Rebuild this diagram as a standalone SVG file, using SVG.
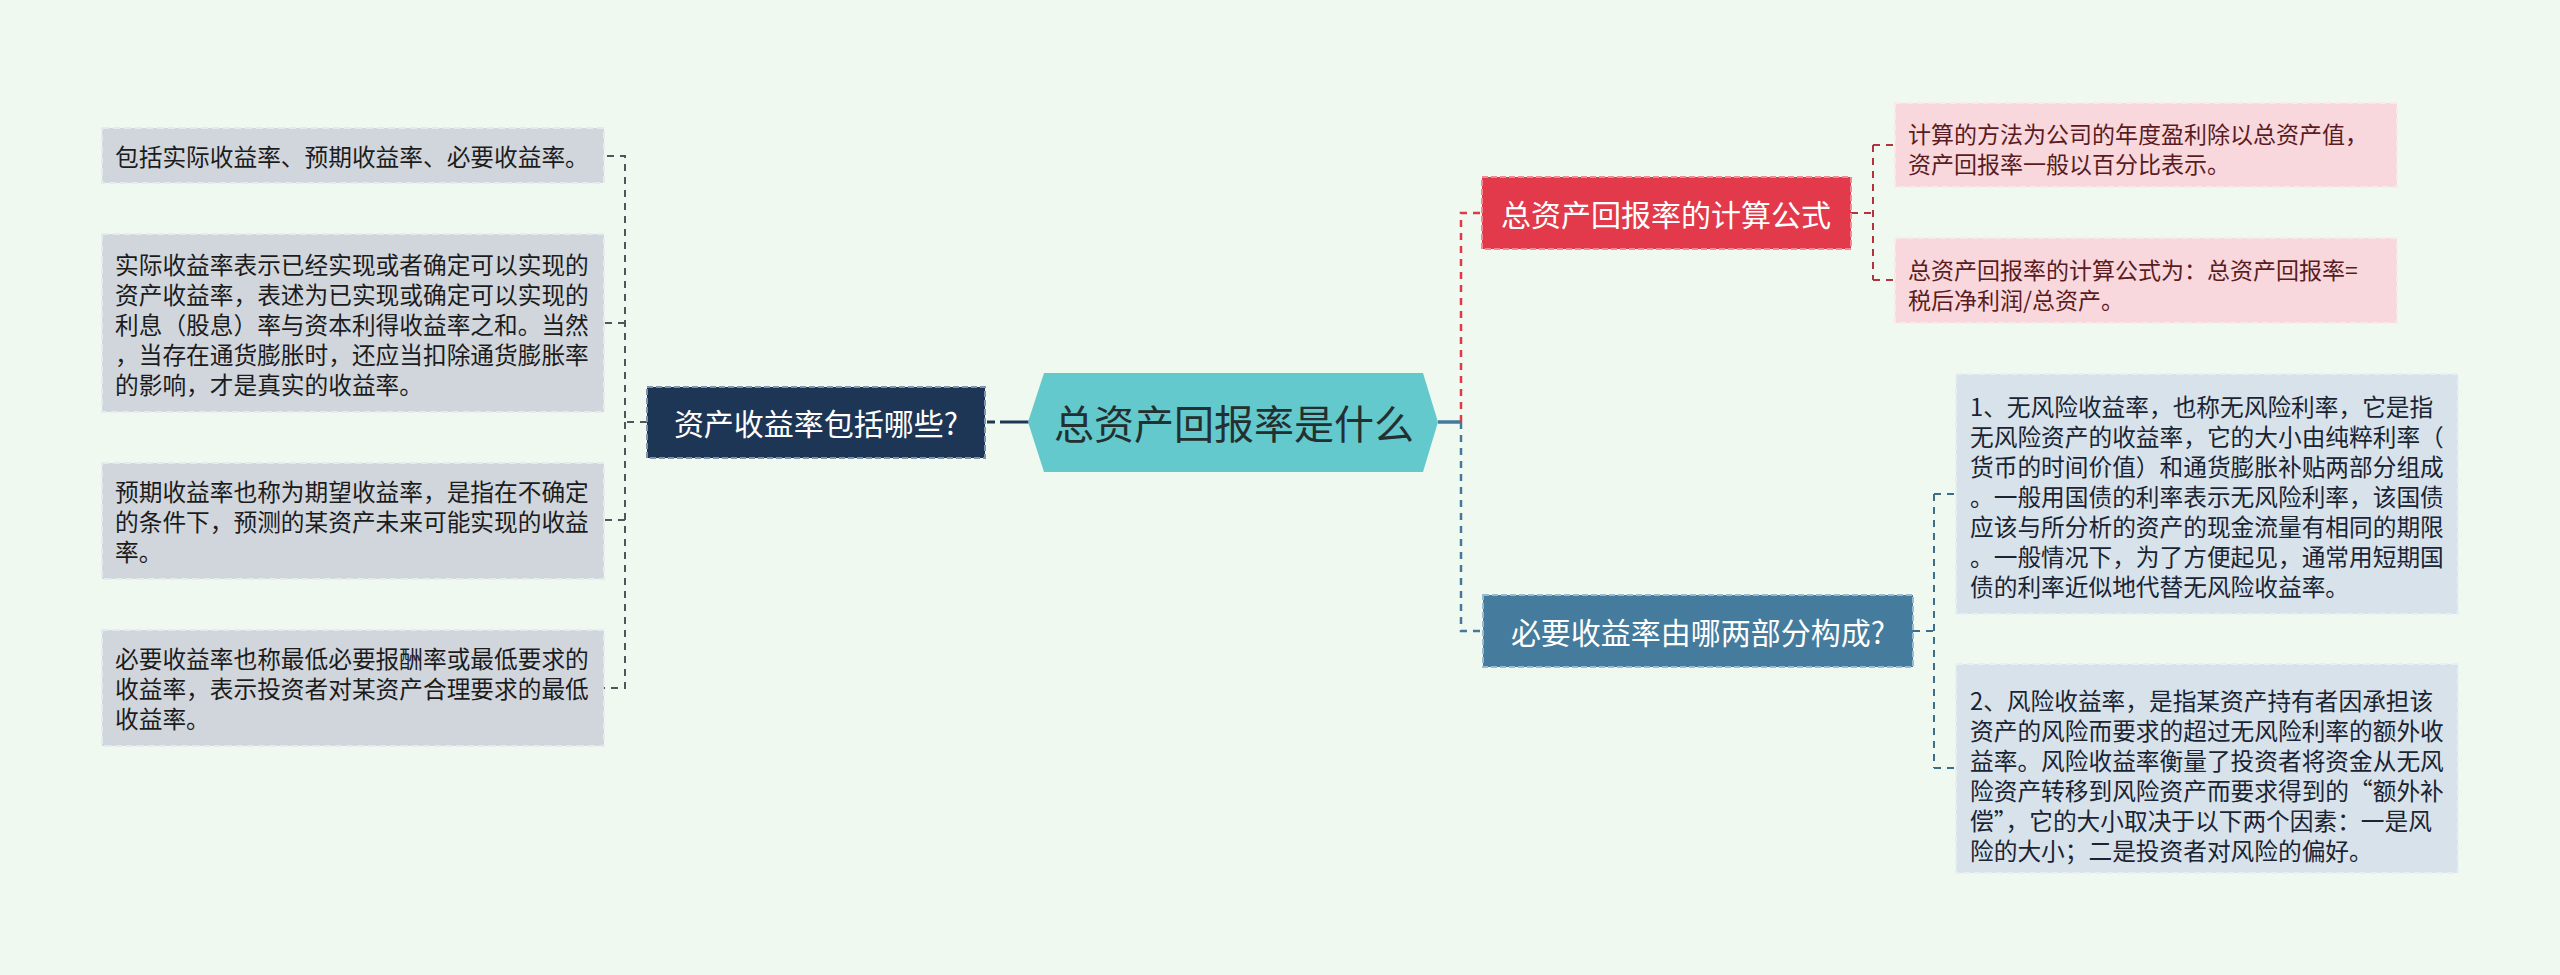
<svg xmlns="http://www.w3.org/2000/svg" width="2560" height="975" viewBox="0 0 2560 975">
<style>
text{font-family:"Noto Sans CJK SC","Noto Sans",sans-serif;dominant-baseline:central}
.leaf{font-size:23.7px;fill:#1c1c1c}
.pinkt{font-size:23px;fill:#5a1c22}
.bluet{font-size:23.7px;fill:#1a2433}
.nodet{font-size:30px;fill:#ffffff;text-anchor:middle}
.c{fill:none;stroke-dasharray:7 6}
.lg{fill:#d1d6dd;stroke:#e6eaee;stroke-width:2;stroke-dasharray:7 4}
.lp{fill:#f9d8dd;stroke:#fbe8eb;stroke-width:2;stroke-dasharray:7 4}
.lb{fill:#d8e2ea;stroke:#e8eef3;stroke-width:2;stroke-dasharray:7 4}
</style>
<rect width="2560" height="975" fill="#f0f9ef"/>
<g id="connectors">
<path class="c" d="M647,422H625V156H604M625,323H604M625,422V688H604M625,520H604" stroke="#50555c" stroke-width="2"/>
<path d="M987,422H1030" fill="none" stroke="#1e3656" stroke-width="3" stroke-dasharray="8 5 60"/>
<path d="M1438,422H1461" fill="none" stroke="#44789c" stroke-width="3.5"/>
<path class="c" d="M1461,422V213H1482" stroke="#e03a48" stroke-width="2.5" stroke-dasharray="8 8"/>
<path class="c" d="M1461,422V631H1483" stroke="#44789c" stroke-width="2.5" stroke-dasharray="8 8"/>
<path class="c" d="M1851,213H1873M1873,145V280M1873,145H1895M1873,280H1895" stroke="#b3323d" stroke-width="2"/>
<path class="c" d="M1913,631H1934M1934,494V768M1934,494H1956M1934,768H1956" stroke="#3e6c8c" stroke-width="2"/>
</g>
<g id="center">
<polygon points="1028,422 1044,373 1423,373 1438,422 1423,472 1044,472" fill="#63c9cc"/>
<text x="1234" y="422" font-size="40" fill="#23302f" text-anchor="middle">总资产回报率是什么</text>
</g>
<g id="n-left">
<rect x="647" y="387" width="338" height="71" fill="#1e3656" stroke="#7f93ad" stroke-width="2" stroke-dasharray="6 3"/>
<text class="nodet" x="816" y="422">资产收益率包括哪些?</text>
</g>
<g id="n-calc">
<rect x="1482" y="177" width="369" height="72" fill="#e23a4a" stroke="#f08a94" stroke-width="2" stroke-dasharray="6 3"/>
<text class="nodet" x="1666" y="213">总资产回报率的计算公式</text>
</g>
<g id="n-req">
<rect x="1483" y="595" width="430" height="72" fill="#457b9d" stroke="#9bbad0" stroke-width="2" stroke-dasharray="6 3"/>
<text class="nodet" x="1698" y="631">必要收益率由哪两部分构成?</text>
</g>
<g id="l1">
<rect class="lg" x="102" y="128" width="502" height="55"/>
<text class="leaf" x="115" y="156">包括实际收益率、预期收益率、必要收益率。</text>
</g>
<g id="l2">
<rect class="lg" x="102" y="234" width="502" height="178"/>
<text class="leaf" x="115" y="264">实际收益率表示已经实现或者确定可以实现的</text>
<text class="leaf" x="115" y="294">资产收益率，表述为已实现或确定可以实现的</text>
<text class="leaf" x="115" y="324">利息（股息）率与资本利得收益率之和。当然</text>
<text class="leaf" x="115" y="354">，当存在通货膨胀时，还应当扣除通货膨胀率</text>
<text class="leaf" x="115" y="384">的影响，才是真实的收益率。</text>
</g>
<g id="l3">
<rect class="lg" x="102" y="463" width="502" height="116"/>
<text class="leaf" x="115" y="491">预期收益率也称为期望收益率，是指在不确定</text>
<text class="leaf" x="115" y="521">的条件下，预测的某资产未来可能实现的收益</text>
<text class="leaf" x="115" y="551">率。</text>
</g>
<g id="l4">
<rect class="lg" x="102" y="630" width="502" height="116"/>
<text class="leaf" x="115" y="658">必要收益率也称最低必要报酬率或最低要求的</text>
<text class="leaf" x="115" y="688">收益率，表示投资者对某资产合理要求的最低</text>
<text class="leaf" x="115" y="718">收益率。</text>
</g>
<g id="p1">
<rect class="lp" x="1895" y="103" width="502" height="84"/>
<text class="pinkt" x="1908" y="133">计算的方法为公司的年度盈利除以总资产值，</text>
<text class="pinkt" x="1908" y="163">资产回报率一般以百分比表示。</text>
</g>
<g id="p2">
<rect class="lp" x="1895" y="238" width="502" height="85"/>
<text class="pinkt" x="1908" y="269">总资产回报率的计算公式为：总资产回报率=</text>
<text class="pinkt" x="1908" y="299">税后净利润/总资产。</text>
</g>
<g id="b1">
<rect class="lb" x="1956" y="374" width="502" height="240"/>
<text class="bluet" x="1970" y="406">1、无风险收益率，也称无风险利率，它是指</text>
<text class="bluet" x="1970" y="436">无风险资产的收益率，它的大小由纯粹利率（</text>
<text class="bluet" x="1970" y="466">货币的时间价值）和通货膨胀补贴两部分组成</text>
<text class="bluet" x="1970" y="496">。一般用国债的利率表示无风险利率，该国债</text>
<text class="bluet" x="1970" y="526">应该与所分析的资产的现金流量有相同的期限</text>
<text class="bluet" x="1970" y="556">。一般情况下，为了方便起见，通常用短期国</text>
<text class="bluet" x="1970" y="586">债的利率近似地代替无风险收益率。</text>
</g>
<g id="b2">
<rect class="lb" x="1956" y="664" width="502" height="209"/>
<text class="bluet" x="1970" y="700">2、风险收益率，是指某资产持有者因承担该</text>
<text class="bluet" x="1970" y="730">资产的风险而要求的超过无风险利率的额外收</text>
<text class="bluet" x="1970" y="760">益率。风险收益率衡量了投资者将资金从无风</text>
<text class="bluet" x="1970" y="790">险资产转移到风险资产而要求得到的“额外补</text>
<text class="bluet" x="1970" y="820">偿”，它的大小取决于以下两个因素：一是风</text>
<text class="bluet" x="1970" y="850">险的大小；二是投资者对风险的偏好。</text>
</g>
</svg>
